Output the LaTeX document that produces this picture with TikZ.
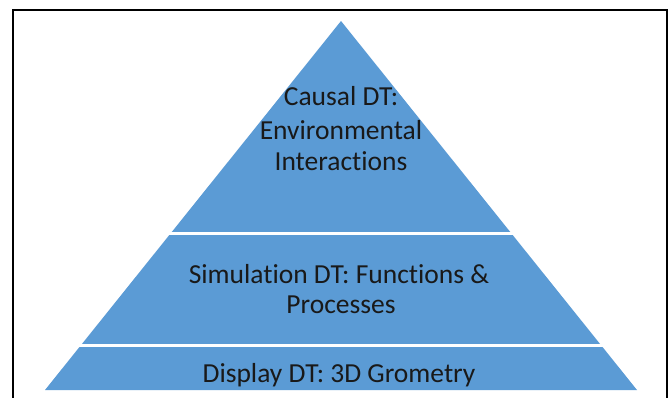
\documentclass[tikz,border=0pt]{standalone}
\usepackage{fontspec}
\setmainfont[Ligatures=NoCommon]{Carlito}
\definecolor{tierblue}{HTML}{5B9BD5}
\begin{document}
\begin{tikzpicture}[x=1pt,y=-1pt,
  tiertext/.style={anchor=base,inner sep=0pt,text=black!90,
    font=\fontsize{27.5}{32}\selectfont},
  gapline/.style={white,line width=3pt},
  frameline/.style={black,line width=2.2pt}]
\useasboundingbox[fill=white] (0,0) rectangle (670,397);
% whole pyramid, split into tiers by white bands
\coordinate (apex) at (341,21);
\coordinate (bl) at (45,390);
\coordinate (br) at (637,390);
\fill[tierblue] (apex) -- (br) -- (bl) -- cycle;
\coordinate (g1l) at (150,233.5);
\coordinate (g1r) at (532,233.5);
\coordinate (g2l) at (60,345.5);
\coordinate (g2r) at (622,345.5);
\draw[gapline] (g1l) -- (g1r);
\draw[gapline] (g2l) -- (g2r);
% frame
\coordinate (fbl) at (13,400);
\coordinate (ftl) at (13,10);
\coordinate (ftr) at (667,10);
\coordinate (fbr) at (667,400);
\draw[frameline] (fbl) -- (ftl) -- (ftr) -- (fbr);
% labels
\node[tiertext] (c1) at (341,105) {Causal DT:};
\node[tiertext] (c2) at (341,139) {Environmental};
\node[tiertext] (c3) at (341,170) {Interactions};
\node[tiertext] (s1) at (339,283) {Simulation DT: Functions \&};
\node[tiertext] (s2) at (341,313) {Processes};
\node[tiertext] (d1) at (339,382) {Display DT: 3D Grometry};
\end{tikzpicture}
\end{document}
